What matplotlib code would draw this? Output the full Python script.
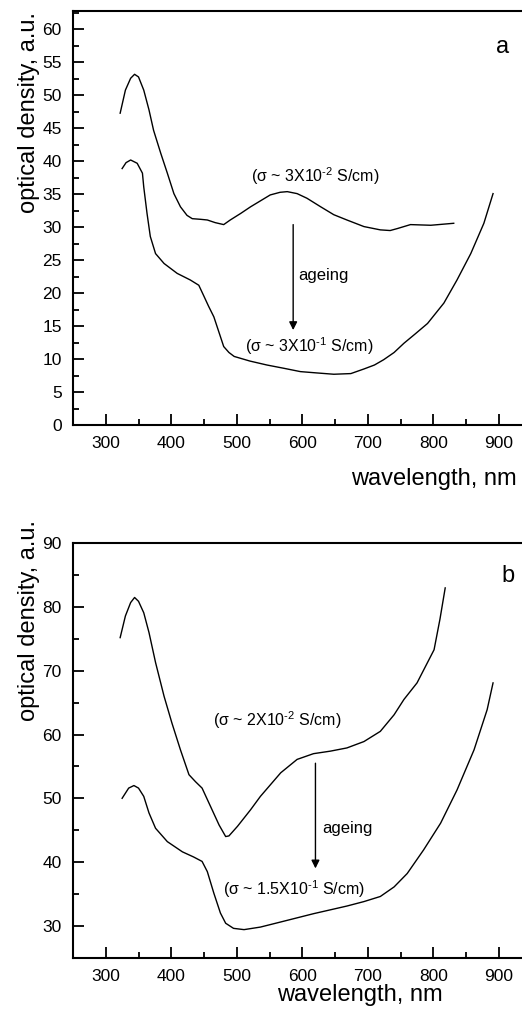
import matplotlib
matplotlib.use('Agg')
import matplotlib.pyplot as plt
from matplotlib.ticker import MultipleLocator

plt.rcParams['font.family'] = ['Liberation Sans', 'DejaVu Sans']
plt.rcParams['mathtext.fontset'] = 'custom'
plt.rcParams['mathtext.rm'] = 'Liberation Sans'
plt.rcParams['mathtext.default'] = 'regular'

# Panel a: fresh film (upper) and aged film (lower)
wl_a_fresh = [322, 330, 338, 344, 350, 358, 366, 373, 384, 394, 404, 414, 424, 432, 445, 455, 467, 480,
              490, 506, 521, 536, 551, 566, 577, 592, 607, 628, 648, 668, 694, 719, 734, 745, 765, 796, 831]
od_a_fresh = [47.3, 50.8, 52.6, 53.2, 52.8, 50.8, 47.8, 44.7, 41.2, 38.2, 35.1, 33.1, 31.8, 31.3, 31.2, 31.1, 30.7, 30.4,
              31.1, 32.1, 33.1, 34.0, 34.9, 35.3, 35.4, 35.1, 34.4, 33.1, 31.9, 31.1, 30.1, 29.6, 29.5, 29.8, 30.4, 30.3, 30.6]

wl_a_aged = [325, 331, 338, 348, 356, 358, 363, 368, 376, 389, 409, 429, 442, 450, 457, 465, 473, 480,
             488, 496, 520, 546, 572, 597, 622, 648, 674, 694, 710, 724, 740, 755, 772, 791,
             816, 836, 857, 877, 891]
od_a_aged = [38.9, 39.8, 40.2, 39.7, 38.2, 36.1, 32.1, 28.6, 26.0, 24.5, 23.0, 22.0, 21.2, 19.5, 18.0, 16.4, 14.0, 11.9,
             11.0, 10.4, 9.7, 9.1, 8.6, 8.1, 7.9, 7.7, 7.8, 8.5, 9.1, 9.9, 11.0, 12.4, 13.8, 15.4,
             18.5, 22.0, 26.0, 30.6, 35.1]

# Panel b: fresh film (upper) and aged film (lower)
wl_b_fresh = [322, 330, 338, 344, 350, 358, 366, 376, 389, 401, 414, 427, 437, 447, 460, 473,
              483, 488, 501, 521, 536, 567, 592, 617, 643, 668, 694, 719, 740, 755,
              775, 801, 810, 818]
od_b_fresh = [75.2, 78.6, 80.7, 81.5, 80.9, 79.1, 76.0, 71.3, 66.0, 61.8, 57.6, 53.7, 52.6, 51.6, 48.7, 45.8,
              44.0, 44.1, 45.6, 48.2, 50.3, 54.0, 56.1, 57.0, 57.4, 57.9, 58.9, 60.5, 63.1, 65.5,
              68.1, 73.3, 78.1, 83.0]

wl_b_aged = [325, 335, 343, 350, 358, 366, 376, 394, 417, 434, 447, 455, 465, 475, 483, 495, 511, 536,
             567, 617, 668, 694, 719, 740, 760, 785, 811, 836, 862, 882, 891]
od_b_aged = [50.0, 51.6, 52.0, 51.6, 50.3, 47.7, 45.3, 43.2, 41.6, 40.8, 40.1, 38.5, 35.1, 32.0, 30.4, 29.6, 29.4, 29.8,
             30.6, 31.9, 33.1, 33.8, 34.6, 36.1, 38.2, 41.9, 46.1, 51.3, 57.6, 63.9, 68.1]

fig = plt.figure(figsize=(5.22, 10.10), dpi=100)
ax_a = fig.add_axes([0.1398, 0.5792, 0.8788, 0.4099])
ax_b = fig.add_axes([0.1398, 0.0518, 0.8788, 0.4103])

for ax in (ax_a, ax_b):
    ax.set_xlim(250, 950)
    ax.xaxis.set_major_locator(MultipleLocator(100))
    ax.xaxis.set_minor_locator(MultipleLocator(50))
    ax.tick_params(which='both', direction='in', top=False, right=False, labelsize=12.5, width=1.3)
    ax.tick_params(which='major', length=8, pad=8)
    ax.tick_params(which='minor', length=4)
    for s in ax.spines.values():
        s.set_linewidth(1.5)
    ax.spines['right'].set_visible(False)

# Panel a
ax_a.plot(wl_a_fresh, od_a_fresh, color='black', lw=1.0)
ax_a.plot(wl_a_aged, od_a_aged, color='black', lw=1.0)
ax_a.set_ylim(0, 62.8)
ax_a.yaxis.set_major_locator(MultipleLocator(5))
ax_a.yaxis.set_minor_locator(MultipleLocator(2.5))
ax_a.annotate('', xy=(586, 14.4), xytext=(586, 30.4),
              arrowprops=dict(arrowstyle='-|>', color='black', lw=1.0, mutation_scale=12, shrinkA=0, shrinkB=0))
ax_a.text(593, 22.7, 'ageing', fontsize=12, va='center', ha='left')
ax_a.text(521, 37.8, r'(σ ~ 3X10$^{\text{-2}}$ S/cm)', fontsize=11.5, va='center', ha='left')
ax_a.text(513, 11.9, r'(σ ~ 3X10$^{\text{-1}}$ S/cm)', fontsize=11.5, va='center', ha='left')
ax_a.text(905, 57.3, 'a', fontsize=17, va='center', ha='center')
ax_a.set_xlabel('wavelength, nm', fontsize=17, va='top')
ax_a.xaxis.set_label_coords(0.787, -0.104)
ax_a.set_ylabel('optical density, a.u.', fontsize=17, va='center')
ax_a.yaxis.set_label_coords(-0.096, 0.756)

# Panel b
ax_b.plot(wl_b_fresh, od_b_fresh, color='black', lw=1.0)
ax_b.plot(wl_b_aged, od_b_aged, color='black', lw=1.0)
ax_b.set_ylim(25, 90)
ax_b.yaxis.set_major_locator(MultipleLocator(10))
ax_b.yaxis.set_minor_locator(MultipleLocator(5))
ax_b.annotate('', xy=(620, 39.0), xytext=(620, 55.5),
              arrowprops=dict(arrowstyle='-|>', color='black', lw=1.0, mutation_scale=12, shrinkA=0, shrinkB=0))
ax_b.text(630, 45.2, 'ageing', fontsize=12, va='center', ha='left')
ax_b.text(463, 62.2, r'(σ ~ 2X10$^{\text{-2}}$ S/cm)', fontsize=11.5, va='center', ha='left')
ax_b.text(479, 35.7, r'(σ ~ 1.5X10$^{\text{-1}}$ S/cm)', fontsize=11.5, va='center', ha='left')
ax_b.text(914, 84.9, 'b', fontsize=17, va='center', ha='center')
ax_b.set_xlabel('wavelength, nm', fontsize=17, va='top')
ax_b.xaxis.set_label_coords(0.626, -0.064)
ax_b.set_ylabel('optical density, a.u.', fontsize=17, va='center')
ax_b.yaxis.set_label_coords(-0.096, 0.8125)

fig.savefig('out.png', dpi=100)
